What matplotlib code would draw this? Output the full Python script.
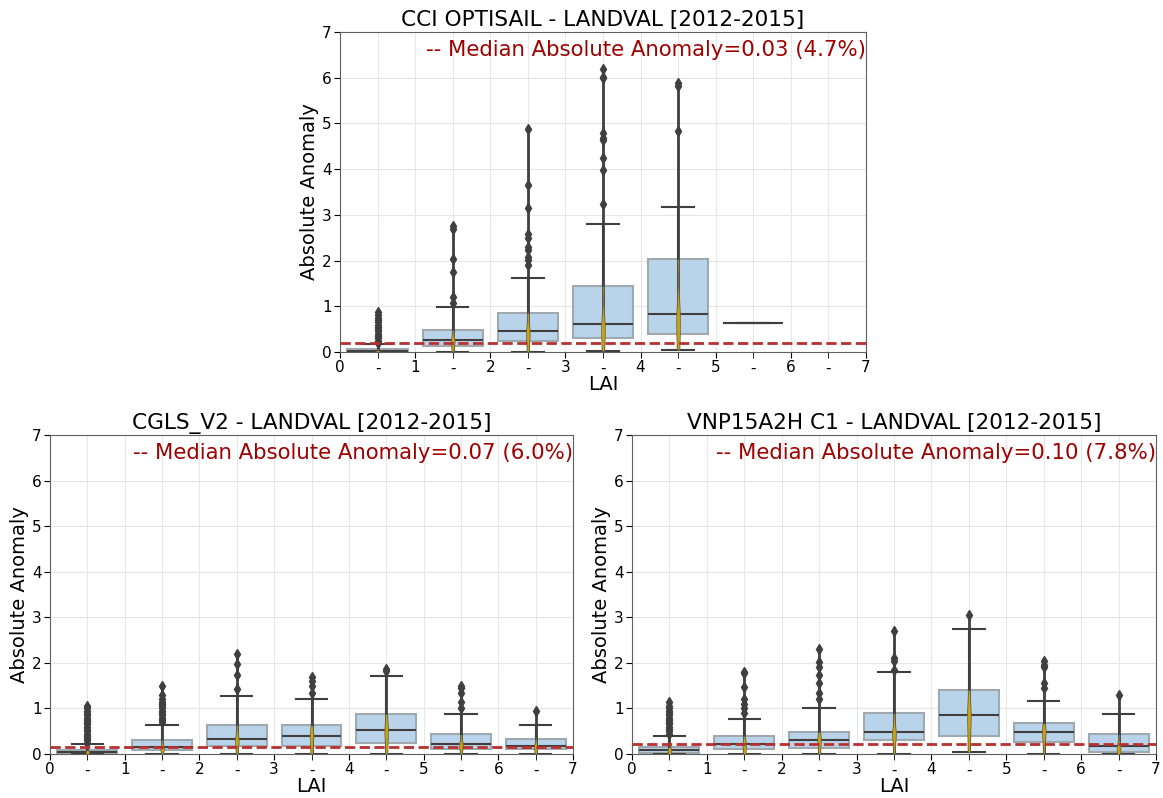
import numpy as np
import matplotlib.pyplot as plt

# LAI bins (centres) and box statistics
positions = [0.5, 1.5, 2.5, 3.5, 4.5, 5.5, 6.5]

# CCI OPTISAIL
opt_q1 = [0.0, 0.14, 0.23, 0.30, 0.39, 0.64, None]
opt_med = [0.02, 0.26, 0.46, 0.61, 0.83, 0.64, None]
opt_q3 = [0.07, 0.48, 0.86, 1.44, 2.03, 0.64, None]
opt_lo = [0.0, 0.01, 0.01, 0.02, 0.05, 0.64, None]
opt_hi = [0.17, 0.98, 1.61, 2.80, 3.17, 0.64, None]
opt_fliers = [
    [0.2, 0.25, 0.3, 0.35, 0.4, 0.45, 0.5, 0.55, 0.6, 0.65, 0.7, 0.75, 0.8, 0.87],
    [1.07, 1.21, 1.75, 2.04, 2.7, 2.76],
    [1.9, 2.01, 2.07, 2.23, 2.3, 2.5, 2.58, 3.14, 3.65, 4.87],
    [3.23, 3.98, 4.25, 4.64, 4.68, 4.8, 6.0, 6.02, 6.19],
    [4.84, 5.82, 5.88],
    [],
    [],
]

# CGLS_V2
cgls_q1 = [0.02, 0.09, 0.18, 0.18, 0.25, 0.12, 0.10]
cgls_med = [0.05, 0.15, 0.33, 0.40, 0.53, 0.22, 0.17]
cgls_q3 = [0.09, 0.31, 0.63, 0.63, 0.88, 0.43, 0.34]
cgls_lo = [0.0, 0.0, 0.0, 0.0, 0.0, 0.0, 0.0]
cgls_hi = [0.21, 0.64, 1.27, 1.21, 1.72, 0.88, 0.64]
cgls_fliers = [
    [0.25, 0.3, 0.35, 0.4, 0.45, 0.5, 0.55, 0.6, 0.65, 0.7, 0.75, 0.8, 0.85, 0.9, 0.95, 1.0, 1.05],
    [0.7, 0.75, 0.8, 0.85, 0.9, 0.95, 1.0, 1.05, 1.1, 1.15, 1.2, 1.3, 1.5],
    [1.43, 1.73, 1.97, 2.2],
    [1.33, 1.5, 1.6, 1.7],
    [1.82, 1.86],
    [1.0, 1.15, 1.35, 1.45, 1.5],
    [0.95],
]

# VNP15A2H C1
vnp_q1 = [0.02, 0.10, 0.14, 0.31, 0.40, 0.26, 0.04]
vnp_med = [0.09, 0.22, 0.31, 0.48, 0.86, 0.48, 0.18]
vnp_q3 = [0.16, 0.40, 0.48, 0.89, 1.40, 0.67, 0.43]
vnp_lo = [0.0, 0.0, 0.0, 0.0, 0.04, 0.0, 0.0]
vnp_hi = [0.40, 0.77, 1.02, 1.80, 2.75, 1.17, 0.88]
vnp_fliers = [
    [0.45, 0.5, 0.55, 0.6, 0.65, 0.7, 0.75, 0.8, 0.85, 0.9, 0.95, 1.0, 1.05, 1.15],
    [0.9, 1.0, 1.1, 1.2, 1.48, 1.78, 1.8],
    [1.2, 1.33, 1.55, 1.73, 1.9, 2.02, 2.3],
    [1.85, 2.05, 2.1, 2.7],
    [3.05],
    [1.45, 1.55, 1.9, 1.95, 2.04],
    [1.29],
]

panels = [
    ("CCI OPTISAIL - LANDVAL [2012-2015]", "0.03 (4.7%)", 0.19,
     opt_q1, opt_med, opt_q3, opt_lo, opt_hi, opt_fliers),
    ("CGLS_V2 - LANDVAL [2012-2015]", "0.07 (6.0%)", 0.16,
     cgls_q1, cgls_med, cgls_q3, cgls_lo, cgls_hi, cgls_fliers),
    ("VNP15A2H C1 - LANDVAL [2012-2015]", "0.10 (7.8%)", 0.22,
     vnp_q1, vnp_med, vnp_q3, vnp_lo, vnp_hi, vnp_fliers),
]

dark = '#3f3f3f'

fig = plt.figure(figsize=(11.63, 7.98), dpi=100)
rects = [[0.2923, 0.5589, 0.4523, 0.401],
         [0.0430, 0.0551, 0.4497, 0.3998],
         [0.5434, 0.0551, 0.4506, 0.3998]]


def draw_panel(ax, title, label, ref, q1, med, q3, lo, hi, fliers):
    stats, pos, cores, cpos = [], [], [], []
    for i, p in enumerate(positions):
        if med[i] is None:
            continue
        stats.append(dict(med=med[i], q1=q1[i], q3=q3[i], whislo=lo[i],
                          whishi=hi[i], fliers=[]))
        pos.append(p)
        top = max([hi[i]] + fliers[i])
        ax.vlines(p, lo[i], top, color=dark, lw=2, zorder=4)
        if hi[i] > q3[i]:
            cores.append([lo[i], q1[i], med[i], med[i], q3[i]])
            cpos.append(p)
        ax.plot([p] * len(fliers[i]), fliers[i], 'd', color=dark, ms=5.5, zorder=4)

    ax.bxp(stats, positions=pos, widths=0.8, capwidths=0.42, patch_artist=True,
           boxprops=dict(facecolor='#b9d3ea', edgecolor='#a0a8b0', lw=1.5),
           whiskerprops=dict(color=dark, lw=1.5),
           capprops=dict(color=dark, lw=1.5),
           medianprops=dict(color=dark, lw=1.5), zorder=2)

    vp = ax.violinplot(cores, positions=cpos, widths=0.05, showextrema=False,
                       bw_method=0.5)
    for body in vp['bodies']:
        body.set_facecolor('#e0b400')
        body.set_edgecolor('#5a5a5a')
        body.set_linewidth(0.6)
        body.set_alpha(0.85)
        body.set_zorder(4.5)

    ax.axhline(ref, color='#b83030', ls='--', lw=2, zorder=5)
    ax.text(1.0, 0.975, '-- Median Absolute Anomaly=' + label, transform=ax.transAxes,
            ha='right', va='top', fontsize=15.3, color='#a00000')

    ax.set_xlim(0, 7)
    ax.set_ylim(0, 7)
    ax.set_xticks(range(8))
    ax.set_xticklabels([str(i) for i in range(8)])
    ax.set_xticks(positions, minor=True)
    ax.set_xticklabels(['-'] * len(positions), minor=True)
    ax.set_yticks(range(8))
    ax.tick_params(which='both', labelsize=11, length=4, pad=2)
    ax.grid(True, which='both', color='#e6e6e6', lw=0.8)
    ax.set_axisbelow(True)
    for s in ax.spines.values():
        s.set_color('#606060')
    ax.set_title(title, fontsize=15.6, pad=4)
    ax.set_xlabel('LAI', fontsize=14, labelpad=0)
    ax.set_ylabel('Absolute Anomaly', fontsize=14, labelpad=2)


for rect, panel in zip(rects, panels):
    ax = fig.add_axes(rect)
    draw_panel(ax, *panel)

fig.savefig('out.png', dpi=100)
